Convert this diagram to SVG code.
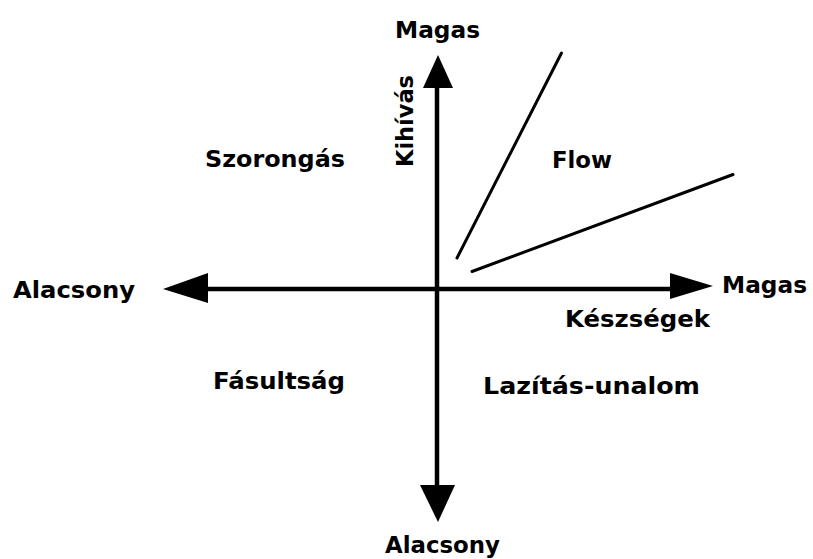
<svg xmlns="http://www.w3.org/2000/svg" width="813" height="559" viewBox="0 0 813 559">
<style>
text{font-family:"DejaVu Sans","Liberation Sans",sans-serif;font-weight:bold;font-size:23px;fill:#000}
.ax{stroke:#000;stroke-width:4.5;fill:none}
.ln{stroke:#000;stroke-width:3;fill:none;stroke-linecap:round}
.head{fill:#000;stroke:none}
</style>
<rect width="813" height="559" fill="#fff"/>
<g id="connectors">
<line class="ax" x1="437" y1="80" x2="437" y2="500"/>
<line class="ax" x1="200" y1="289" x2="680" y2="289"/>
<polygon class="head" points="438,55 423,88 453,88"/>
<polygon class="head" points="438,522 420,485 455,485"/>
<polygon class="head" points="163,289 208,273 208,303"/>
<polygon class="head" points="713,286 670,273 670,299"/>
<line class="ln" x1="457" y1="258" x2="561.5" y2="53"/>
<line class="ln" x1="472" y1="271.5" x2="733" y2="174.5"/>
</g>
<g id="label-top"><text x="395" y="38" textLength="85" lengthAdjust="spacingAndGlyphs">Magas</text></g>
<g id="label-kihivas"><text transform="translate(413,167) rotate(-90)" x="0" y="0" textLength="92" lengthAdjust="spacingAndGlyphs">Kihívás</text></g>
<g id="label-szorongas"><text x="205" y="167" textLength="140" lengthAdjust="spacingAndGlyphs">Szorongás</text></g>
<g id="label-flow"><text x="552" y="168" textLength="60" lengthAdjust="spacingAndGlyphs">Flow</text></g>
<g id="label-left"><text x="13" y="298" textLength="122" lengthAdjust="spacingAndGlyphs">Alacsony</text></g>
<g id="label-right"><text x="722" y="293" textLength="85" lengthAdjust="spacingAndGlyphs">Magas</text></g>
<g id="label-keszsegek"><text x="565" y="327" textLength="145" lengthAdjust="spacingAndGlyphs">Készségek</text></g>
<g id="label-fasultsag"><text x="213" y="389" textLength="132" lengthAdjust="spacingAndGlyphs">Fásultság</text></g>
<g id="label-lazitas"><text x="483" y="394" textLength="217" lengthAdjust="spacingAndGlyphs">Lazítás-unalom</text></g>
<g id="label-bottom"><text x="385" y="553" textLength="115" lengthAdjust="spacingAndGlyphs">Alacsony</text></g>
</svg>
